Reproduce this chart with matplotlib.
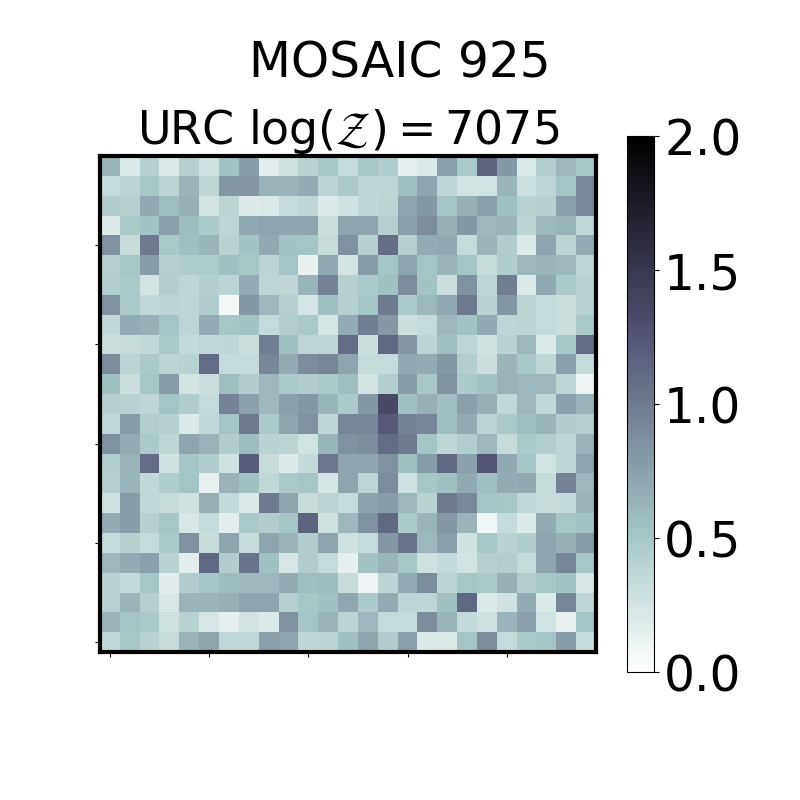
import matplotlib
matplotlib.use("Agg")
import matplotlib.pyplot as plt
import numpy as np

suptitle = "MOSAIC 925"
title = r"URC log($\mathcal{Z}$)$=$7075"
cbar_ticks = [0.0, 0.5, 1.0, 1.5, 2.0]
grid_ticks = [0, 5, 10, 15, 20]

# rows as seen in the picture, top to bottom
row00 = [.62, .20, .42, .20, .42, .27, .53, .78, .15, .28, .40, .50, .33, .50, .45, .14, .20, .75, .47, 1.15, .80, .20, .43, .60, .50]
row01 = [.33, .38, .50, .38, .63, .36, .82, .82, .62, .62, .68, .38, .48, .37, .37, .55, .72, .36, .26, .26, .62, .29, .37, .52, .90]
row02 = [.45, .42, .70, .57, .65, .25, .38, .18, .20, .33, .36, .20, .27, .36, .38, .72, .80, .52, .65, .75, .55, .40, .42, .75, .90]
row03 = [.18, .48, .53, .75, .58, .47, .37, .70, .72, .72, .72, .30, .72, .72, .42, .75, .88, .65, .80, .60, .62, .38, .60, .62, .35]
row04 = [.85, .32, 1.0, .48, .57, .62, .40, .53, .70, .53, .52, .32, .85, .42, 1.08, .42, .68, .70, .33, .62, .45, .20, .72, .38, .68]
row05 = [.42, .50, .78, .42, .46, .46, .55, .50, .38, .52, .12, .70, .25, .78, .52, .72, .52, .62, .52, .32, .45, .60, .62, .60, .37]
row06 = [.43, .48, .25, .43, .36, .43, .38, .68, .37, .36, .62, .95, .42, .47, .55, .88, .53, .30, .85, .37, .98, .20, .70, .47, .40]
row07 = [.85, .48, .35, .38, .37, .45, .07, .80, .60, .42, .24, .55, .42, .52, 1.0, .47, .60, .70, 1.0, .40, .82, .38, .33, .30, .40]
row08 = [.35, .68, .65, .52, .37, .68, .50, .53, .33, .43, .48, .24, .68, .98, .82, .30, .33, .60, .53, .70, .37, .38, .33, .30, .48]
row09 = [.30, .32, .35, .48, .34, .35, .36, .30, .98, .55, .36, .36, 1.1, .30, 1.12, .82, .38, .55, .37, .27, .40, .60, .20, .50, 1.1]
row10 = [.88, .38, .47, .38, .40, 1.1, .33, .33, .92, .68, .88, .92, .72, .33, .33, .70, .68, .82, .43, .30, .62, .50, .36, .75, .33]
row11 = [.55, .30, .50, .78, .25, .30, .57, .45, .60, .48, .45, .47, .57, .25, .43, .78, .50, .85, .47, .53, .63, .60, .60, .37, .10]
row12 = [.42, .40, .36, .52, .45, .33, .95, .75, .60, .75, .80, .62, .47, .80, 1.35, .55, .65, .55, .75, .65, .35, .60, .35, .75, .62]
row13 = [.35, .78, .43, .42, .20, .35, .52, 1.0, .47, .72, .85, .36, .92, .92, 1.22, .95, .92, .55, .68, .38, .47, .57, .62, .45, .42]
row14 = [.85, .68, .47, .36, .72, .63, .45, .58, .40, .38, .26, .62, .85, .88, 1.1, 1.0, .52, .36, .43, .60, .32, .48, .43, .36, .62]
row15 = [.43, .63, 1.1, .27, .52, .45, .27, 1.2, .32, .18, .34, 1.02, .72, .72, .85, .55, .78, 1.12, .75, 1.25, .70, .52, .26, .37, .72]
row16 = [.42, .62, .35, .45, .52, .13, .63, .55, .35, .48, .50, .24, .72, .37, .88, .27, .50, .55, .70, .55, .68, .70, .32, .95, .60]
row17 = [.27, .78, .35, .32, .28, .65, .34, .20, 1.0, .72, .32, .38, .33, .73, .78, .60, .40, 1.0, .90, .52, .50, .35, .32, .34, .62]
row18 = [.68, .78, .42, .50, .22, .33, .16, .48, .45, .52, 1.15, .27, .60, .85, 1.12, .47, .62, .82, .62, .08, .33, .20, .68, .50, .53]
row19 = [.33, .42, .33, .47, .85, .32, .72, .32, .72, .62, .45, .72, .28, .33, .82, 1.05, .60, .75, .27, .50, .40, .45, .72, .65, .78]
row20 = [.60, .68, .75, .40, .16, 1.12, .45, 1.05, .55, .23, .45, .33, .14, .53, .62, .50, .28, .34, .26, .42, .43, .33, .72, .92, .50]
row21 = [.40, .34, .50, .17, .45, .52, .58, .60, .60, .68, .57, .58, .32, .10, .38, .68, .88, .38, .50, .48, .65, .44, .50, .53, .22]
row22 = [.40, .62, .42, .22, .62, .62, .65, .72, .72, .42, .50, .55, .71, .47, .68, .37, .37, .55, 1.12, .20, .27, .68, .20, .92, .36]
row23 = [.62, .52, .47, .28, .40, .23, .14, .25, .20, .85, .52, .62, .38, .60, .33, .33, .88, .62, .34, .28, .62, .75, .26, .13, .52]
row24 = [.35, .50, .40, .32, .62, .72, .35, .35, .75, .72, .36, .38, .55, .72, .45, .75, .20, .20, .52, .88, .33, .47, .52, .78, .33]

rows = [row00, row01, row02, row03, row04, row05, row06, row07, row08, row09, row10, row11, row12,
        row13, row14, row15, row16, row17, row18, row19, row20, row21, row22, row23, row24]
img = np.array(rows)[::-1]

fig = plt.figure(figsize=(8, 8), dpi=100)
ax = fig.add_axes([0.125, 0.185, 0.62, 0.62])
im = ax.imshow(img, cmap="bone_r", vmin=0, vmax=2, origin="lower", interpolation="nearest")
ax.set_xticks(grid_ticks)
ax.set_yticks(grid_ticks)
ax.set_xticklabels([])
ax.set_yticklabels([])
for s in ax.spines.values():
    s.set_linewidth(3)
ax.set_title(title, fontsize=33, pad=7)
fig.suptitle(suptitle, fontsize=35, x=0.5, y=0.95)

cax = fig.add_axes([0.784, 0.16, 0.034, 0.67])
cb = fig.colorbar(im, cax=cax, ticks=cbar_ticks)
cb.ax.tick_params(labelsize=35)
cb.ax.set_yticklabels([f"{t:.1f}" for t in cbar_ticks])

fig.savefig("out.png", dpi=100)
